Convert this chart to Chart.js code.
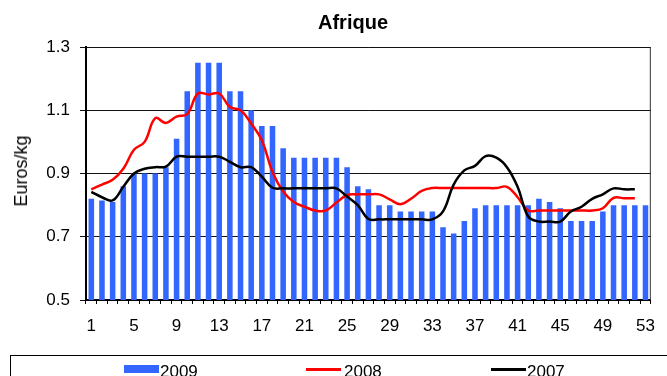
<!DOCTYPE html>
<html>
<head>
<meta charset="utf-8">
<script src="https://cdn.jsdelivr.net/npm/chart.js@4.4.1/dist/chart.umd.min.js"></script>
<style>
  html, body { margin: 0; padding: 0; background: #fff; }
  #wrap { position: relative; width: 667px; height: 376px; overflow: hidden;
          font-family: "Liberation Sans", Arial, sans-serif; color: #000; }
  #c { position: absolute; left: 0; top: 0; }
  #title { position: absolute; left: 318px; top: 12px; font-weight: bold; font-size: 20px; line-height: 20px; white-space: nowrap; }
  #ylab { position: absolute; left: 21px; top: 171px; font-size: 18px; line-height: 18px; white-space: nowrap;
          transform: translate(-50%, -50%) rotate(-90deg); }
  #legend { position: absolute; left: 10px; top: 355px; width: 700px; height: 40px; border: 1px solid #000; box-sizing: border-box; }
  .lg { position: absolute; font-size: 17px; line-height: 17px; white-space: nowrap; }
  .sw { position: absolute; }
</style>
</head>
<body>
<div id="wrap">
  <canvas id="c" width="667" height="376"></canvas>
  <div id="title">Afrique</div>
  <div id="ylab">Euros/kg</div>
  <div id="legend"></div>
</div>
<script>
// Week numbers along the x axis
const weeks = [1,2,3,4,5,6,7,8,9,10,11,12,13,14,15,16,17,18,19,20,21,22,23,24,25,26,27,
               28,29,30,31,32,33,34,35,36,37,38,39,40,41,42,43,44,45,46,47,48,49,50,51,52,53];
// Weeks that carry a label
const xTickLabels = [1,5,9,13,17,21,25,29,33,37,41,45,49,53];
// Price ticks (Euros/kg)
const yTickLabels = [0.5,0.7,0.9,1.1,1.3];

// 2009 weekly prices (bars)
const price2009 = [0.82,0.815,0.81,0.86,0.90,0.90,0.90,0.92,1.01,1.16,1.25,1.25,1.25,1.16,1.16,1.10,1.05,1.05,
                   0.98,0.95,0.95,0.95,0.95,0.95,0.92,0.86,0.85,0.80,0.80,0.78,0.78,0.78,0.78,0.73,0.71,0.75,
                   0.79,0.80,0.80,0.80,0.80,0.80,0.82,0.81,0.79,0.75,0.75,0.75,0.78,0.80,0.80,0.80,0.80];
// 2008 weekly prices (red line)
const price2008 = [0.85,0.865,0.88,0.915,0.975,1.00,1.075,1.06,1.08,1.088,1.153,1.15,1.153,1.11,1.10,1.058,1.005,0.905,
                   0.843,0.81,0.795,0.783,0.783,0.808,0.832,0.834,0.834,0.834,0.818,0.803,0.82,0.845,0.854,0.854,0.854,0.854,
                   0.854,0.854,0.854,0.858,0.825,0.783,0.783,0.783,0.783,0.783,0.783,0.783,0.79,0.823,0.822,0.822,null];
// 2007 weekly prices (black line)
const price2007 = [0.842,0.825,0.815,0.858,0.90,0.915,0.92,0.922,0.953,0.953,0.953,0.953,0.953,0.937,0.92,0.92,0.89,0.855,
                   0.853,0.853,0.853,0.853,0.853,0.853,0.827,0.80,0.756,0.755,0.755,0.755,0.755,0.755,0.755,0.78,0.865,0.91,
                   0.924,0.955,0.95,0.92,0.858,0.764,0.748,0.748,0.748,0.78,0.795,0.82,0.834,0.853,0.85,0.85,null];

const FONT = '"Liberation Sans", Arial, sans-serif';
const BLUE = 'rgb(51,102,255)';

// Outline on the right side of the plot area
const frame = {
  id: 'frame',
  afterDraw(chart) {
    const { ctx, chartArea: a } = chart;
    ctx.save();
    ctx.strokeStyle = '#333';
    ctx.lineWidth = 1;
    ctx.beginPath();
    ctx.moveTo(a.right - 0.5, a.top);
    ctx.lineTo(a.right - 0.5, a.bottom);
    ctx.stroke();
    ctx.restore();
  }
};

new Chart(document.getElementById('c'), {
  type: 'bar',
  data: {
    labels: weeks,
    datasets: [
      { label: '2009', data: price2009, backgroundColor: BLUE, borderWidth: 0,
        categoryPercentage: 1, barPercentage: 0.52, order: 3 },
      { type: 'line', label: '2008', data: price2008, borderColor: '#ff0000', borderWidth: 2.5,
        pointRadius: 0, tension: 0.4, fill: false, order: 2 },
      { type: 'line', label: '2007', data: price2007, borderColor: '#000000', borderWidth: 2.5,
        pointRadius: 0, tension: 0.4, fill: false, order: 1 }
    ]
  },
  options: {
    responsive: false,
    animation: false,
    devicePixelRatio: 1,
    layout: { padding: { top: 47, right: 6, bottom: 0, left: 0 } },
    plugins: { legend: { display: false }, title: { display: false }, tooltip: { enabled: false } },
    scales: {
      x: {
        type: 'category',
        offset: true,
        afterFit(s) { s.height = 76; },
        grid: { offset: true, drawOnChartArea: false, drawTicks: true, tickLength: 4, color: '#000', lineWidth: 1 },
        border: { color: '#000', width: 2 },
        ticks: {
          autoSkip: false, maxRotation: 0, minRotation: 0, padding: 12, color: '#000',
          font: { family: FONT, size: 17 },
          callback(v, i) { return xTickLabels.includes(weeks[i]) ? String(weeks[i]) : ''; }
        }
      },
      y: {
        min: 0.5, max: 1.3,
        afterFit(s) { s.width = 86; },
        afterBuildTicks(s) { s.ticks = yTickLabels.map(v => ({ value: v })); },
        grid: { color: '#111', lineWidth: 1, tickLength: 6 },
        border: { color: '#000', width: 2 },
        ticks: {
          padding: 10, color: '#000', font: { family: FONT, size: 17 },
          callback(v) { return Number(v).toFixed(1); }
        }
      }
    }
  },
  plugins: [frame]
});

// Legend entries
const legendItems = [
  { text: '2009', kind: 'bar',  color: BLUE,      x: 113, tx: 149 },
  { text: '2008', kind: 'line', color: '#ff0000', x: 295, tx: 333 },
  { text: '2007', kind: 'line', color: '#000000', x: 480, tx: 516 }
];
const lg = document.getElementById('legend');
legendItems.forEach(it => {
  const sw = document.createElement('div');
  sw.className = 'sw';
  sw.style.left = it.x + 'px';
  sw.style.width = '35px';
  sw.style.background = it.color;
  if (it.kind === 'bar') { sw.style.top = '9px'; sw.style.height = '8px'; }
  else { sw.style.top = '12px'; sw.style.height = '3px'; }
  lg.appendChild(sw);
  const t = document.createElement('div');
  t.className = 'lg';
  t.style.left = it.tx + 'px';
  t.style.top = '7px';
  t.textContent = it.text;
  lg.appendChild(t);
});
</script>
</body>
</html>
